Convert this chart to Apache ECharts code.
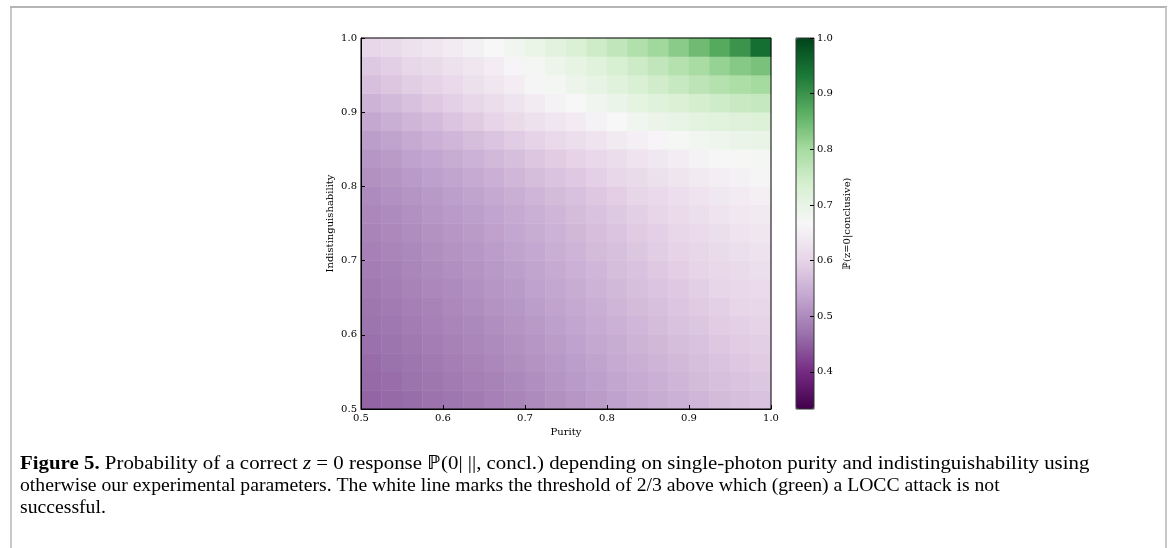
<!DOCTYPE html>
<html>
<head>
<meta charset="utf-8">
<script src="https://cdn.jsdelivr.net/npm/echarts@6/dist/echarts.min.js"></script>
<style>
  html, body { margin: 0; padding: 0; background: #fff; }
  #chart { width: 1170px; height: 548px; }
</style>
</head>
<body>
<div id="chart"></div>
<script>
// cell centres (step 0.025)
const purity = [0.5125, 0.5375, 0.5625, 0.5875, 0.6125, 0.6375, 0.6625, 0.6875, 0.7125, 0.7375,
  0.7625, 0.7875, 0.8125, 0.8375, 0.8625, 0.8875, 0.9125, 0.9375, 0.9625, 0.9875]
const indist = [0.5125, 0.5375, 0.5625, 0.5875, 0.6125, 0.6375, 0.6625, 0.6875, 0.7125, 0.7375,
  0.7625, 0.7875, 0.8125, 0.8375, 0.8625, 0.8875, 0.9125, 0.9375, 0.9625, 0.9875]

// P(z=0|conclusive), one row per indistinguishability value (bottom row first)
const prob = [
  [0.456, 0.460, 0.465, 0.471, 0.476, 0.481, 0.487, 0.493, 0.500, 0.508, 0.515, 0.522, 0.529, 0.537, 0.544, 0.551, 0.558, 0.564, 0.570, 0.575],
  [0.460, 0.464, 0.470, 0.475, 0.480, 0.486, 0.491, 0.498, 0.505, 0.513, 0.520, 0.527, 0.535, 0.542, 0.549, 0.557, 0.564, 0.571, 0.576, 0.581],
  [0.463, 0.469, 0.474, 0.479, 0.484, 0.490, 0.496, 0.503, 0.510, 0.517, 0.524, 0.532, 0.540, 0.548, 0.555, 0.562, 0.570, 0.576, 0.582, 0.587],
  [0.468, 0.473, 0.478, 0.483, 0.489, 0.494, 0.500, 0.507, 0.514, 0.522, 0.529, 0.537, 0.545, 0.553, 0.560, 0.568, 0.575, 0.582, 0.589, 0.593],
  [0.472, 0.477, 0.482, 0.487, 0.493, 0.498, 0.505, 0.512, 0.519, 0.527, 0.535, 0.542, 0.550, 0.558, 0.566, 0.574, 0.581, 0.589, 0.594, 0.599],
  [0.475, 0.480, 0.486, 0.491, 0.497, 0.503, 0.510, 0.516, 0.524, 0.531, 0.539, 0.548, 0.556, 0.564, 0.572, 0.579, 0.587, 0.594, 0.601, 0.606],
  [0.479, 0.484, 0.490, 0.496, 0.501, 0.507, 0.514, 0.521, 0.529, 0.536, 0.545, 0.553, 0.561, 0.570, 0.577, 0.585, 0.593, 0.601, 0.607, 0.612],
  [0.483, 0.488, 0.494, 0.500, 0.506, 0.512, 0.519, 0.526, 0.534, 0.541, 0.550, 0.558, 0.567, 0.575, 0.583, 0.592, 0.600, 0.607, 0.614, 0.620],
  [0.487, 0.493, 0.498, 0.504, 0.510, 0.516, 0.523, 0.531, 0.538, 0.547, 0.555, 0.564, 0.572, 0.581, 0.590, 0.598, 0.606, 0.614, 0.621, 0.627],
  [0.492, 0.497, 0.503, 0.509, 0.515, 0.521, 0.528, 0.536, 0.544, 0.552, 0.560, 0.569, 0.578, 0.587, 0.595, 0.604, 0.612, 0.621, 0.628, 0.634],
  [0.496, 0.501, 0.507, 0.514, 0.520, 0.526, 0.533, 0.541, 0.549, 0.557, 0.566, 0.575, 0.584, 0.593, 0.602, 0.611, 0.620, 0.628, 0.636, 0.642],
  [0.501, 0.507, 0.513, 0.519, 0.526, 0.532, 0.539, 0.547, 0.556, 0.564, 0.573, 0.582, 0.592, 0.601, 0.610, 0.619, 0.628, 0.638, 0.645, 0.651],
  [0.507, 0.513, 0.520, 0.527, 0.534, 0.541, 0.549, 0.558, 0.567, 0.576, 0.585, 0.595, 0.604, 0.614, 0.623, 0.632, 0.642, 0.649, 0.656, 0.662],
  [0.514, 0.521, 0.529, 0.536, 0.544, 0.552, 0.561, 0.570, 0.580, 0.589, 0.599, 0.608, 0.618, 0.629, 0.639, 0.648, 0.657, 0.665, 0.670, 0.676],
  [0.525, 0.532, 0.541, 0.550, 0.558, 0.567, 0.578, 0.588, 0.599, 0.609, 0.619, 0.629, 0.641, 0.652, 0.661, 0.671, 0.679, 0.687, 0.693, 0.698],
  [0.537, 0.547, 0.556, 0.565, 0.577, 0.587, 0.600, 0.611, 0.624, 0.635, 0.646, 0.658, 0.669, 0.681, 0.691, 0.700, 0.709, 0.715, 0.721, 0.724],
  [0.554, 0.563, 0.573, 0.583, 0.594, 0.606, 0.618, 0.631, 0.645, 0.658, 0.669, 0.682, 0.694, 0.707, 0.719, 0.729, 0.740, 0.747, 0.754, 0.758],
  [0.571, 0.580, 0.590, 0.599, 0.610, 0.622, 0.635, 0.648, 0.662, 0.675, 0.688, 0.702, 0.716, 0.731, 0.745, 0.757, 0.770, 0.782, 0.792, 0.800],
  [0.584, 0.593, 0.603, 0.613, 0.624, 0.635, 0.648, 0.661, 0.674, 0.689, 0.703, 0.718, 0.734, 0.750, 0.765, 0.781, 0.797, 0.814, 0.828, 0.839],
  [0.605, 0.614, 0.625, 0.634, 0.645, 0.655, 0.668, 0.681, 0.696, 0.712, 0.728, 0.746, 0.764, 0.784, 0.804, 0.824, 0.847, 0.871, 0.900, 0.945]
]

const axisTicks = [0.5, 0.6, 0.7, 0.8, 0.9, 1.0]
const cbarTicks = [0.4, 0.5, 0.6, 0.7, 0.8, 0.9, 1.0]
const cbarMin = 1 / 3
const cbarMax = 1.0

// PRGn
const prgn = ['#40004b', '#762a83', '#9970ab', '#c2a5cf', '#e7d4e8', '#f7f7f7',
  '#d9f0d3', '#a6dba0', '#5aae61', '#1b7837', '#00441b']

const heatData = []
prob.forEach((row, r) => {
  row.forEach((v, c) => heatData.push([c, r, v]))
})

const serif = 'DejaVu Serif'
const tickLabel = { fontFamily: serif, fontSize: 10, color: '#000', formatter: v => v.toFixed(1) }
const nameStyle = { fontFamily: serif, fontSize: 10, color: '#000' }
const capFont = 'Liberation Serif'
const capSize = 19.7

const chart = echarts.init(document.getElementById('chart'))

chart.setOption({
  animation: false,
  backgroundColor: '#fff',
  grid: [
    { left: 361, top: 38, width: 410, height: 371 },
    { left: 361, top: 38, width: 410, height: 371, show: true, borderColor: '#000', borderWidth: 1, z: 10 },
    { left: 796, top: 38, width: 18, height: 371, show: true, borderColor: '#333', borderWidth: 1, z: 10 }
  ],
  xAxis: [
    { type: 'category', gridIndex: 0, data: purity.map(String), show: false },
    {
      type: 'value', gridIndex: 1, min: 0.5, max: 1.0, interval: 0.1, z: 10,
      axisLine: { lineStyle: { color: '#000' } },
      axisTick: { inside: true, length: 4, lineStyle: { color: '#000' } },
      axisLabel: Object.assign({ margin: 4, customValues: axisTicks }, tickLabel),
      splitLine: { show: false },
      name: 'Purity', nameLocation: 'middle', nameGap: 17, nameTextStyle: nameStyle
    },
    { type: 'value', gridIndex: 2, min: 0, max: 1, show: false }
  ],
  yAxis: [
    { type: 'category', gridIndex: 0, data: indist.map(String), show: false },
    {
      type: 'value', gridIndex: 1, min: 0.5, max: 1.0, interval: 0.1, z: 10,
      axisLine: { lineStyle: { color: '#000' } },
      axisTick: { inside: true, length: 4, lineStyle: { color: '#000' } },
      axisLabel: Object.assign({ margin: 4, customValues: axisTicks }, tickLabel),
      splitLine: { show: false },
      name: 'Indistinguishability', nameLocation: 'middle', nameGap: 26, nameRotate: 90,
      nameTextStyle: nameStyle
    },
    {
      type: 'value', gridIndex: 2, min: cbarMin, max: cbarMax, position: 'right', z: 10,
      axisLine: { show: false, onZero: false },
      axisTick: { inside: true, length: 4, customValues: cbarTicks, lineStyle: { color: '#000' } },
      axisLabel: Object.assign({ margin: 3, customValues: cbarTicks }, tickLabel),
      splitLine: { show: false },
      name: 'ℙ(z=0|conclusive)', nameLocation: 'middle', nameGap: 28, nameRotate: 90,
      nameTextStyle: nameStyle
    }
  ],
  visualMap: {
    type: 'continuous', min: cbarMin, max: cbarMax, seriesIndex: 0, dimension: 2,
    calculable: false, orient: 'vertical', left: 796, top: 38, z: 1,
    itemWidth: 18, itemHeight: 371, padding: 0, text: null, hoverLink: false,
    inRange: { color: prgn }
  },
  series: [
    {
      type: 'heatmap', xAxisIndex: 0, yAxisIndex: 0, data: heatData,
      itemStyle: { borderWidth: 0 }, emphasis: { disabled: true }
    },
    { type: 'scatter', xAxisIndex: 1, yAxisIndex: 1, data: [] },
    { type: 'scatter', xAxisIndex: 2, yAxisIndex: 2, data: [] }
  ],
  graphic: [
    { type: 'line', shape: { x1: 11, y1: 7, x2: 11, y2: 548 }, style: { stroke: '#c8c8c8', lineWidth: 2 } },
    { type: 'line', shape: { x1: 10, y1: 7, x2: 1167, y2: 7 }, style: { stroke: '#b4b4b4', lineWidth: 2 } },
    { type: 'line', shape: { x1: 1166, y1: 7, x2: 1166, y2: 548 }, style: { stroke: '#c8c8c8', lineWidth: 2 } },
    {
      type: 'text', x: 20, y: 464, scaleX: 1.06,
      style: {
        x: 0, y: 0, verticalAlign: 'middle', fill: '#000',
        fontFamily: capFont, fontSize: capSize,
        text: '{b|Figure 5.} Probability of a correct {i|z} = 0 response ℙ(0| ||, concl.) depending on single-photon purity and indistinguishability using',
        rich: {
          b: { fontFamily: capFont, fontSize: capSize, fontWeight: 'bold' },
          i: { fontFamily: capFont, fontSize: capSize, fontStyle: 'italic' }
        }
      }
    },
    {
      type: 'text', x: 20, y: 486,
      style: {
        x: 0, y: 0, verticalAlign: 'middle', fill: '#000',
        fontFamily: capFont, fontSize: capSize,
        text: 'otherwise our experimental parameters. The white line marks the threshold of 2/3 above which (green) a LOCC attack is not'
      }
    },
    {
      type: 'text', x: 20, y: 508,
      style: {
        x: 0, y: 0, verticalAlign: 'middle', fill: '#000',
        fontFamily: capFont, fontSize: capSize,
        text: 'successful.'
      }
    }
  ]
})
</script>
</body>
</html>
